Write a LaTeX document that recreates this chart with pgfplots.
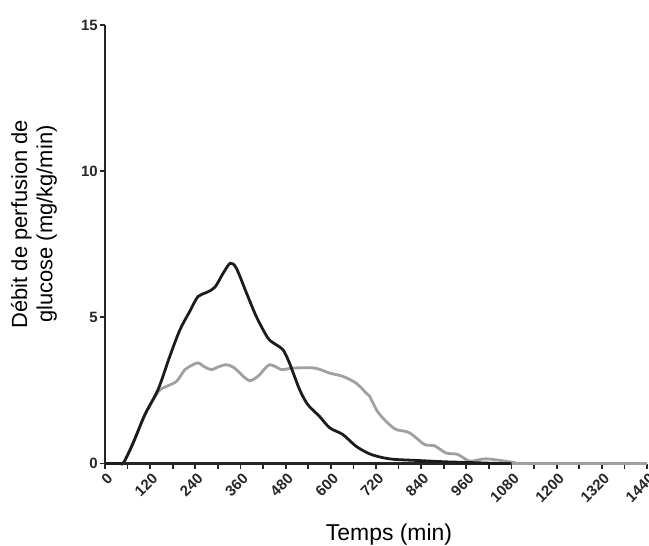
\documentclass[border=0pt]{standalone}
\usepackage{fontspec}
\setmainfont{Liberation Sans}
\usepackage{pgfplots}
\pgfplotsset{compat=1.18}
\definecolor{curvegray}{HTML}{A0A0A0}
\definecolor{curveblack}{HTML}{1C1C1C}
\definecolor{axcol}{HTML}{262626}
\begin{document}
\begin{tikzpicture}
\begin{axis}[
  scale only axis,
  width=542bp, height=438.5bp,
  xmin=0, xmax=1440, ymin=0, ymax=15,
  axis x line=bottom, axis y line=left,
  axis line style={-, line width=2.2bp, color=axcol},
  xtick={0,120,...,1440},
  minor xtick={60,180,...,1380},
  ytick={0,5,10,15},
  tick align=outside,
  major tick length=5bp, minor tick length=5bp,
  every tick/.style={line width=1.8bp, color=axcol},
  minor tick style={line width=1.8bp, color=axcol},
  /pgf/number format/assume math mode=true,
  /pgf/number format/1000 sep={},
  tick label style={font=\fontsize{15}{17}\selectfont\bfseries, text=axcol},
  x tick label style={rotate=45, anchor=east, inner sep=1pt, yshift=-9bp, xshift=-1bp},
  y tick label style={inner sep=2pt},
  xlabel={Temps (min)},
  every axis x label/.style={at={(axis description cs:0.524,0)}, yshift=-76.5bp, anchor=base, font=\fontsize{23}{26}\selectfont},
  ylabel={Débit de perfusion de\\glucose (mg/kg/min)},
  every axis y label/.style={at={(axis description cs:0,0.546)}, xshift=-71bp, rotate=90, anchor=center, align=center, font=\fontsize{22}{25.5}\selectfont},
  clip=false,
]
\addplot[color=curvegray, line width=2.8bp, smooth] coordinates {
(0,0) (40,0) (50,0.04) (75,0.71) (106,1.67) (141,2.45) (164,2.64) (190,2.81)
(212,3.21) (225,3.32) (247,3.44) (265,3.3) (283,3.21) (300,3.3) (322,3.38)
(340,3.3) (354,3.15) (370,2.95) (385,2.83) (400,2.92) (411,3.04) (425,3.25)
(438,3.38) (455,3.3) (469,3.21) (490,3.25) (508,3.27) (553,3.27) (575,3.2)
(597,3.09) (632,2.98) (667,2.75) (694,2.41) (703,2.3) (721,1.84) (735,1.6)
(756,1.33) (774,1.16) (809,1.05) (849,0.65) (875,0.61) (906,0.36) (937,0.31)
(968,0.08) (990,0.12) (1012,0.16) (1048,0.11) (1083,0.04) (1100,0) (1440,0)
};
\addplot[color=curveblack, line width=2.8bp, smooth] coordinates {
(0,0) (40,0) (50,0.04) (75,0.71) (106,1.67) (141,2.53) (172,3.66) (199,4.57)
(225,5.2) (247,5.71) (270,5.85) (292,6.03) (314,6.51) (333,6.85) (349,6.68)
(376,5.83) (402,5.03) (433,4.29) (455,4.06) (473,3.89) (490,3.44) (517,2.53)
(539,2.01) (570,1.61) (597,1.22) (632,0.99) (667,0.59) (703,0.33) (738,0.2)
(770,0.14) (836,0.1) (900,0.06) (950,0.04) (1000,0.02) (1050,0) (1080,0)
};
\end{axis}
\pgfresetboundingbox
\path[use as bounding box] ([xshift=-105bp,yshift=-82.5bp]current axis.south west) rectangle ([xshift=2bp,yshift=25bp]current axis.north east);
\end{tikzpicture}
\end{document}
